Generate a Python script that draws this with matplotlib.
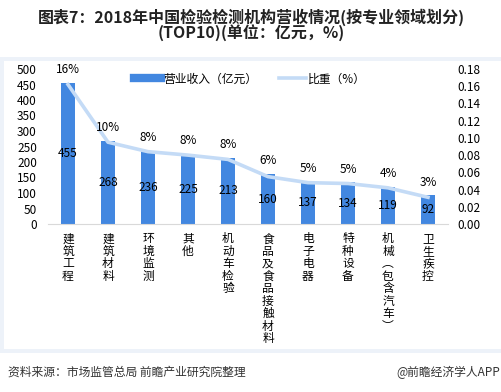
import matplotlib
matplotlib.use("Agg")
import matplotlib.pyplot as plt
from matplotlib.patches import Rectangle
from matplotlib.lines import Line2D
import numpy as np

plt.rcParams['font.family'] = ['Noto Sans CJK SC', 'DejaVu Sans']

categories = ["建筑工程", "建筑材料", "环境监测", "其他", "机动车检验",
              "食品及食品接触材料", "电子电器", "特种设备", "机械︵包含汽车︶", "卫生疾控"]
revenue = [455, 268, 236, 225, 213, 160, 137, 134, 119, 92]
share = [0.162, 0.095, 0.084, 0.080, 0.075, 0.055, 0.048, 0.047, 0.042, 0.031]
share_labels = ["16%", "10%", "8%", "8%", "8%", "6%", "5%", "5%", "4%", "3%"]

bar_c = "#4287E0"
line_c = "#C4DBF6"

fig = plt.figure(figsize=(5.02, 3.92), dpi=100)

# light frame behind the chart area
fig.add_artist(Rectangle((0, 1 - 353/392), 1, (353 - 57)/392, transform=fig.transFigure,
                         facecolor="#EDF2F9", edgecolor="none", zorder=-10))
fig.add_artist(Rectangle((4/502, 1 - 349/392), 1, (349 - 61)/392, transform=fig.transFigure,
                         facecolor="white", edgecolor="none", zorder=-9))

ax = fig.add_axes([48/502, 1 - 224/392, 400/502, 155/392])
ax.patch.set_alpha(0)
x = np.arange(len(categories))
ax.bar(x, revenue, width=0.36, color=bar_c, zorder=2)
ax.set_xlim(-0.5, len(categories) - 0.5)
ax.set_ylim(0, 500)
ax.set_yticks(np.arange(0, 501, 50))
for s in ["top", "right", "left"]:
    ax.spines[s].set_visible(False)
ax.spines["bottom"].set_color("#D9D9D9")
ax.tick_params(axis="y", length=0, pad=8, labelsize=8.5)
ax.tick_params(axis="x", length=0, pad=6)
ax.set_xticks(x)
ax.set_xticklabels(["\n".join(c) for c in categories], fontsize=8.5,
                   va="top", linespacing=0.95)

for xi, v in zip(x, revenue):
    ax.text(xi, v / 2, str(v), ha="center", va="center", fontsize=8.5, zorder=4)

ax2 = ax.twinx()
ax2.set_ylim(0, 0.18)
ax2.set_yticks(np.arange(0, 0.181, 0.02))
ax2.set_yticklabels([f"{t:.2f}" for t in np.arange(0, 0.181, 0.02)])
for s in ["top", "right", "left", "bottom"]:
    ax2.spines[s].set_visible(False)
ax2.tick_params(axis="y", length=0, pad=7, labelsize=8.5)
ax2.plot(x, share, color=line_c, lw=2.6, zorder=3)

# percentage labels above bars, drawn on top of the line
for xi, v, lab in zip(x, revenue, share_labels):
    ax2.annotate(lab, (xi, v), xycoords=ax.transData, xytext=(0, 5),
                 textcoords="offset points", ha="center", va="bottom",
                 fontsize=8.5, zorder=5)

handles = [Line2D([0], [0], color=bar_c, lw=6),
           Line2D([0], [0], color=line_c, lw=2.6)]
fig.legend(handles, ["营业收入（亿元）", "比重（%）"], loc="center",
           bbox_to_anchor=(250/502, 1 - 79/392), ncol=2, frameon=False,
           fontsize=8.5, handlelength=2.3, columnspacing=1.8, handletextpad=0.2)

fig.text(0.5, 1 - 17/392, "图表7：2018年中国检验检测机构营收情况(按专业领域划分)",
         ha="center", va="center", fontsize=11.5, fontweight="bold", color="#222222")
fig.text(0.5, 1 - 33/392, "(TOP10)(单位：亿元，%)",
         ha="center", va="center", fontsize=11.5, fontweight="bold", color="#222222")

fig.text(8/502, 1 - 372/392, "资料来源：市场监管总局 前瞻产业研究院整理",
         ha="left", va="center", fontsize=8.5, color="#333333")
fig.text(500/502, 1 - 372/392, "@前瞻经济学人APP",
         ha="right", va="center", fontsize=8.5, color="#333333")

fig.savefig("out.png", dpi=100)
